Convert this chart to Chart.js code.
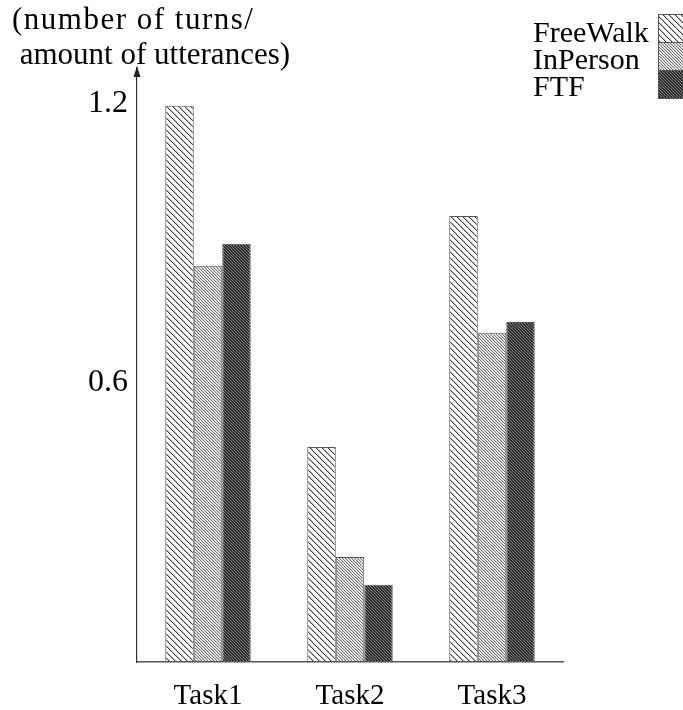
<!DOCTYPE html>
<html>
<head>
<meta charset="utf-8">
<title>Turns per utterance</title>
<script src="https://cdn.jsdelivr.net/npm/chart.js@4/dist/chart.umd.min.js"></script>
<style>
  html, body { margin: 0; padding: 0; background: #fff; }
  canvas { display: block; }
</style>
</head>
<body>
<canvas id="chart" width="683" height="710"></canvas>
<script>
// Data
const categories = ['Task1', 'Task2', 'Task3'];
const seriesNames = ['FreeWalk', 'InPerson', 'FTF'];
const freeWalk = [1.196, 0.462, 0.959];
const inPerson = [0.852, 0.226, 0.708];
const ftf = [0.899, 0.166, 0.731];
const yTicks = [0.6, 1.2];
const axisTitle = ['(number of turns/', ' amount of utterances)'];

const serif = "'Liberation Serif', 'Times New Roman', serif";

// Hatch patterns: diagonal "\" stripes built pixel by pixel
function makeHatch(size, colors) {
    const c = document.createElement('canvas');
    c.width = size;
    c.height = size;
    const ctx = c.getContext('2d');
    for (let y = 0; y < size; y++) {
        for (let x = 0; x < size; x++) {
            const d = ((x - y) % size + size) % size;
            ctx.fillStyle = colors[d] || colors[colors.length - 1];
            ctx.fillRect(x, y, 1, 1);
        }
    }
    return document.getElementById('chart').getContext('2d').createPattern(c, 'repeat');
}

const freeWalkFill = makeHatch(6, ['#3c3c3c', '#bdbdbd', '#ffffff', '#ffffff', '#ffffff', '#ffffff']);
const inPersonFill = makeHatch(3, ['#707070', '#d0d0d0', '#ffffff']);
const ftfFill = makeHatch(3, ['#8a8a8a', '#2a2a2a', '#262626']);

// Title, legend and arrowhead drawn on top of the chart
const decorations = {
    id: 'decorations',
    afterDraw(chart) {
        const ctx = chart.ctx;
        const area = chart.chartArea;
        ctx.save();

        // axis title, top left
        ctx.fillStyle = '#000';
        ctx.font = '31px ' + serif;
        ctx.textBaseline = 'alphabetic';
        ctx.textAlign = 'left';
        ctx.letterSpacing = '1.5px';
        ctx.fillText(axisTitle[0], 12, 29);
        ctx.letterSpacing = '0px';
        ctx.fillText(axisTitle[1], 12, 64);

        // arrowhead on the y axis
        const ax = area.left;
        ctx.fillStyle = '#222';
        ctx.beginPath();
        ctx.moveTo(ax, area.top - 2);
        ctx.lineTo(ax - 3.5, area.top + 9);
        ctx.lineTo(ax + 3.5, area.top + 9);
        ctx.closePath();
        ctx.fill();

        // legend: text left, stacked swatches right
        ctx.font = '30px ' + serif;
        chart.data.datasets.forEach((ds, i) => {
            const top = 14 + i * 28;
            ctx.fillStyle = '#000';
            ctx.fillText(ds.label, 533, 42 + i * 27);
            ctx.fillStyle = ds.backgroundColor;
            ctx.fillRect(658, top, 30, 28);
            ctx.strokeStyle = '#555';
            ctx.lineWidth = 1;
            ctx.strokeRect(658.5, top + 0.5, 30, 28);
        });
        ctx.restore();
    }
};

new Chart(document.getElementById('chart'), {
    type: 'bar',
    data: {
        labels: categories,
        datasets: [
            { label: seriesNames[0], data: freeWalk, backgroundColor: freeWalkFill },
            { label: seriesNames[1], data: inPerson, backgroundColor: inPersonFill },
            { label: seriesNames[2], data: ftf, backgroundColor: ftfFill }
        ]
    },
    options: {
        responsive: false,
        animation: false,
        devicePixelRatio: 1,
        layout: { padding: { top: 68, right: 120, left: 0, bottom: 0 } },
        datasets: {
            bar: {
                barPercentage: 1.0,
                categoryPercentage: 0.602,
                borderColor: '#555',
                borderWidth: 1,
                borderSkipped: false
            }
        },
        plugins: {
            legend: { display: false },
            tooltip: { enabled: false }
        },
        scales: {
            x: {
                grid: { display: false, drawTicks: false },
                border: { display: true, color: '#555', width: 1.5 },
                ticks: { color: '#000', font: { family: serif, size: 29 }, padding: 17 },
                afterFit(scale) { scale.height = 48; }
            },
            y: {
                min: 0,
                max: 1.277,
                grid: { display: false, drawTicks: false },
                border: { display: true, color: '#333', width: 1.2 },
                ticks: {
                    color: '#000',
                    font: { family: serif, size: 32 },
                    padding: 9,
                    callback: (v) => v.toFixed(1)
                },
                afterBuildTicks(scale) {
                    scale.ticks = yTicks.map(v => ({ value: v }));
                },
                afterFit(scale) { scale.width = 137; }
            }
        }
    },
    plugins: [decorations]
});
</script>
</body>
</html>
